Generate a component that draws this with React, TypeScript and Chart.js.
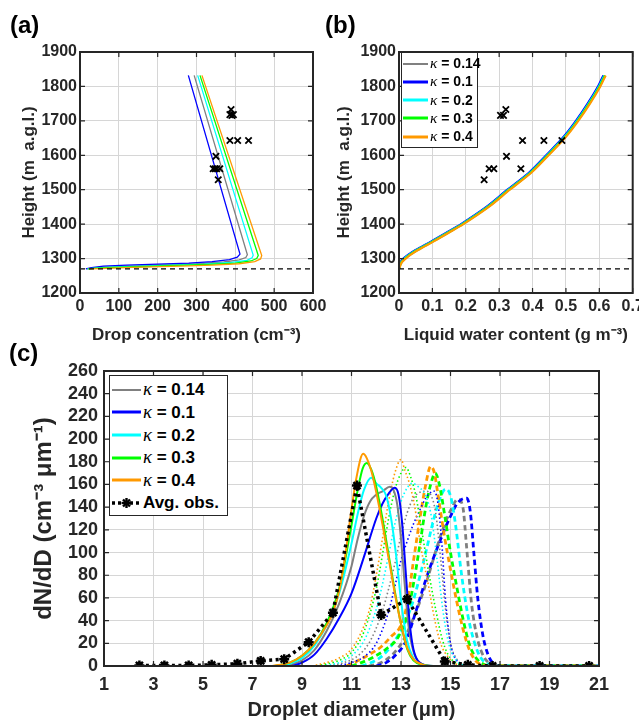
import React, { useEffect, useRef } from "react";
import { Chart, registerables } from "chart.js";
Chart.register(...registerables);

type P = [number, number];

const FONT = "'Liberation Sans', Arial, Helvetica, sans-serif";
const INK = "#262626";
const GRID = "#d6d6d6";

// ---------- series identity ----------
const KAPPAS = ["0.14", "0.1", "0.2", "0.3", "0.4"];
const COLORS = ["#808080", "#0000ff", "#00ffff", "#00ff00", "#ff9900"];

// ---------- panel (a): drop concentration (cm^-3) vs height (m) ----------
const CLOUD_BASE = 1270;
const CONC_MIN = 0, CONC_MAX = 600;
const HEIGHT_MIN = 1200, HEIGHT_MAX = 1900;
const concGray: P[] = [[17,1270],[35,1273],[70,1276],[140,1279],[220,1282],[300,1285],[370,1290],[410,1296],[427,1303],[431,1311],[294,1832]];
const concBlue: P[] = [[15,1270],[30,1274],[60,1278],[120,1281],[200,1284],[280,1287],[340,1291],[385,1297],[405,1304],[412,1313],[279,1832]];
const concCyan: P[] = [[19,1270],[40,1272],[80,1275],[160,1278],[240,1281],[320,1284],[390,1289],[430,1295],[443,1302],[446,1310],[303,1832]];
const concGreen: P[] = [[21,1270],[45,1272],[90,1274],[170,1277],[250,1280],[330,1283],[400,1287],[440,1293],[455,1300],[459,1309],[309,1832]];
const concOrange: P[] = [[23,1270],[50,1271],[100,1273],[180,1276],[260,1278],[340,1281],[410,1285],[450,1291],[465,1299],[468,1309],[314,1832]];
const obsConc = [389, 386, 395, 391, 386, 406, 434, 350, 343, 348, 352, 360, 356];
const obsConcHeight = [1733, 1718, 1718, 1716, 1643, 1643, 1643, 1597, 1561, 1561, 1561, 1561, 1529];

// ---------- panel (b): liquid water content (g m^-3) vs height ----------
const LWC_MIN = 0, LWC_MAX = 0.7;
const lwcHeights = [1270,1280,1290,1300,1310,1325,1350,1375,1400,1450,1500,1550,1600,1650,1700,1750,1800,1832];
const lwcGray   = [0,0.002,0.006,0.015,0.028,0.052,0.099,0.144,0.188,0.264,0.327,0.392,0.443,0.492,0.532,0.567,0.598,0.614];
const lwcBlue   = [0,0.002,0.005,0.013,0.026,0.050,0.097,0.142,0.186,0.262,0.325,0.390,0.441,0.490,0.530,0.565,0.596,0.612];
const lwcCyan   = [0,0.003,0.007,0.016,0.029,0.053,0.100,0.145,0.189,0.265,0.328,0.393,0.444,0.493,0.533,0.568,0.599,0.615];
const lwcGreen  = [0,0.003,0.008,0.018,0.031,0.055,0.102,0.147,0.191,0.267,0.330,0.395,0.446,0.495,0.535,0.570,0.601,0.617];
const lwcOrange = [0,0.004,0.009,0.020,0.033,0.057,0.104,0.149,0.193,0.269,0.332,0.397,0.448,0.497,0.537,0.572,0.603,0.619];
const obsLwc = [0.255, 0.270, 0.284, 0.365, 0.304, 0.313, 0.320, 0.322, 0.370, 0.434, 0.488];
const obsLwcHeight = [1529, 1561, 1561, 1561, 1716, 1716, 1733, 1597, 1643, 1643, 1643];

// ---------- panel (c): dN/dD (cm^-3 um^-1) vs droplet diameter (um) ----------
const D_MIN = 1, D_MAX = 21;
const DN_MIN = 0, DN_MAX = 260;
// solid
const solidGray: P[] = [[8.3,0],[9,5],[9.5,14],[10,31],[10.5,55],[11,88],[11.25,112],[11.5,132],[11.75,145],[12,151],[12.25,154],[12.55,158],[12.7,155],[12.85,142],[13,112],[13.15,72],[13.3,36],[13.5,13],[13.75,3],[14.2,0],[21,0]];
const solidBlue: P[] = [[8.6,0],[9,3],[9.5,10],[10,24],[10.5,42],[11,64],[11.5,96],[12,130],[12.25,143],[12.5,152],[12.75,157],[12.9,151],[13.05,125],[13.2,80],[13.35,38],[13.5,15],[13.75,3],[14.3,0],[21,0]];
const solidCyan: P[] = [[8.1,0],[8.5,2],[9,7],[9.5,18],[10,36],[10.5,64],[11,108],[11.25,134],[11.5,155],[11.8,166],[12,161],[12.2,157],[12.4,150],[12.6,130],[12.8,98],[13,58],[13.25,22],[13.5,7],[13.8,1],[14.3,0],[21,0]];
const solidGreen: P[] = [[7.9,0],[8.5,3],[9,9],[9.5,20],[10,38],[10.5,68],[11,124],[11.25,155],[11.45,174],[11.62,179],[11.8,173],[12,158],[12.25,130],[12.5,98],[12.75,66],[13,37],[13.25,15],[13.5,5],[13.9,1],[14.3,0],[21,0]];
const solidOrange: P[] = [[7.8,0],[8.5,3],[9,9],[9.5,20],[10,36],[10.25,47],[10.5,66],[10.75,98],[11,138],[11.2,166],[11.47,187],[11.62,183],[11.8,172],[12,153],[12.25,125],[12.5,95],[12.75,64],[13,37],[13.25,16],[13.5,6],[13.9,1],[14.3,0],[21,0]];
// dotted
const dotGray: P[] = [[10.1,0],[10.7,3],[11.2,8],[11.7,20],[12.2,45],[12.5,68],[12.75,90],[13,115],[13.25,135],[13.5,148],[13.75,153],[14,154],[14.2,151],[14.4,135],[14.6,95],[14.8,50],[15,20],[15.25,6],[15.5,1],[15.9,0],[21,0]];
const dotBlue: P[] = [[10.4,0],[11,3],[11.5,8],[12,20],[12.5,48],[12.75,70],[13,93],[13.25,110],[13.5,125],[13.75,137],[14,148],[14.2,153],[14.35,154],[14.5,142],[14.65,108],[14.8,58],[15,20],[15.25,5],[15.5,1],[15.9,0],[21,0]];
const dotCyan: P[] = [[9.8,0],[10.5,3],[11,9],[11.5,22],[12,50],[12.25,72],[12.5,98],[12.75,125],[13,145],[13.25,157],[13.45,161],[13.7,158],[13.95,152],[14.2,135],[14.45,95],[14.7,48],[14.95,18],[15.2,6],[15.5,1],[15.9,0],[21,0]];
const dotGreen: P[] = [[9.6,0],[10.5,5],[11,12],[11.5,30],[12,68],[12.25,98],[12.5,130],[12.75,155],[13,170],[13.2,175],[13.4,166],[13.6,150],[13.85,118],[14.1,85],[14.4,50],[14.65,25],[14.9,10],[15.2,3],[15.6,0],[21,0]];
const dotOrange: P[] = [[9.4,0],[10,3],[10.5,7],[11,15],[11.5,35],[11.75,52],[12,80],[12.25,112],[12.5,145],[12.75,170],[13,182],[13.15,173],[13.35,160],[13.55,141],[13.8,105],[14.1,72],[14.35,42],[14.6,20],[14.9,8],[15.3,1],[15.8,0],[21,0]];
// dashed
const dashGray: P[] = [[11.7,0],[12.2,3],[12.7,11],[13.1,23],[13.5,42],[13.75,56],[14,72],[14.25,90],[14.5,108],[14.75,124],[15,137],[15.3,147],[15.5,140],[15.65,105],[15.85,55],[16.1,23],[16.35,8],[16.6,2],[17,0],[21,0]];
const dashBlue: P[] = [[12,0],[12.4,3],[12.8,10],[13.2,22],[13.6,48],[14,76],[14.5,106],[15,132],[15.3,144],[15.65,148],[15.8,136],[15.95,98],[16.1,60],[16.3,28],[16.5,11],[16.7,3],[17,0],[21,0]];
const dashCyan: P[] = [[11.4,0],[11.8,3],[12.3,10],[12.8,24],[13.2,40],[13.5,58],[13.75,78],[14,100],[14.25,123],[14.5,143],[14.8,156],[15,150],[15.2,125],[15.45,80],[15.7,45],[15.95,22],[16.2,8],[16.5,2],[16.9,0],[21,0]];
const dashGreen: P[] = [[11,0],[11.4,3],[11.9,8],[12.4,15],[12.9,26],[13.25,45],[13.5,72],[13.75,105],[14,140],[14.2,160],[14.38,170],[14.55,160],[14.75,135],[15,100],[15.25,70],[15.5,42],[15.75,20],[16,8],[16.3,2],[16.7,0],[21,0]];
const dashOrange: P[] = [[10.8,0],[11.2,4],[11.7,10],[12.2,17],[12.6,26],[13,36],[13.25,55],[13.5,92],[13.75,128],[14,160],[14.2,176],[14.35,170],[14.5,150],[14.75,115],[15,85],[15.25,57],[15.5,33],[15.75,15],[16,5],[16.3,1],[16.7,0],[21,0]];
// observed average
const obsDiam = [2.43, 3.44, 4.42, 5.35, 6.39, 7.33, 8.28, 9.27, 10.25, 11.22, 12.2, 13.25, 14.77, 15.7, 16.7, 18.6, 20.6];
const obsDn = [0.5, 0.5, 0.5, 1, 2, 4.5, 6, 21, 47, 159, 45, 59, 4, 1, 0, 0, 0];

// ---------- helpers ----------
const toXY = (arr: P[]) => arr.map(([x, y]) => ({ x, y }));
const zipXY = (xs: number[], ys: number[]) => xs.map((x, i) => ({ x, y: ys[i] }));

const framePlugin = {
  id: "matlabFrame",
  afterDatasetsDraw(chart: any) {
    const { ctx, chartArea: a, scales } = chart;
    const xs = scales.x, ys = scales.y;
    const tl = 5;
    ctx.save();
    ctx.strokeStyle = INK;
    ctx.lineWidth = 1.2;
    ctx.beginPath();
    xs.ticks.forEach((t: any) => {
      const p = xs.getPixelForValue(t.value);
      ctx.moveTo(p, a.bottom); ctx.lineTo(p, a.bottom - tl);
      ctx.moveTo(p, a.top); ctx.lineTo(p, a.top + tl);
    });
    ys.ticks.forEach((t: any) => {
      const p = ys.getPixelForValue(t.value);
      ctx.moveTo(a.left, p); ctx.lineTo(a.left + tl, p);
      ctx.moveTo(a.right, p); ctx.lineTo(a.right - tl, p);
    });
    ctx.stroke();
    ctx.lineWidth = 2;
    ctx.strokeRect(a.left, a.top, a.right - a.left, a.bottom - a.top);
    ctx.restore();
  },
};

function axis(o: {
  min: number; max: number; step: number; size: number; title: string; titleSize: number;
  titlePad: number; tickPad: number; fit: number; horizontal: boolean; fmt?: (v: number) => string;
}) {
  return {
    type: "linear",
    min: o.min,
    max: o.max,
    ticks: {
      stepSize: o.step,
      autoSkip: false,
      maxRotation: 0,
      minRotation: 0,
      padding: o.tickPad,
      color: INK,
      font: { family: FONT, size: o.size, weight: "bold" },
      callback: o.fmt ? (v: any) => o.fmt!(Number(v)) : undefined,
    },
    grid: { color: GRID, lineWidth: 1, drawTicks: false },
    border: { display: false },
    title: {
      display: true,
      text: o.title,
      color: INK,
      font: { family: FONT, size: o.titleSize, weight: "bold" },
      padding: o.horizontal ? { top: 0, bottom: o.titlePad } : { top: o.titlePad, bottom: 0 },
    },
    afterFit(s: any) {
      if (o.horizontal) { s.height = o.fit; s.paddingLeft = 0; s.paddingRight = 0; }
      else { s.width = o.fit; s.paddingTop = 0; s.paddingBottom = 0; }
    },
  };
}

function baseOptions(padding: any, x: any, y: any) {
  return {
    responsive: false,
    maintainAspectRatio: false,
    animation: false,
    events: [],
    layout: { padding },
    plugins: { legend: { display: false }, tooltip: { enabled: false } },
    scales: { x, y },
  };
}

function ChartCanvas({ left, top, width, height, make }: any) {
  const ref = useRef<HTMLCanvasElement>(null);
  useEffect(() => {
    const c = new Chart(ref.current as HTMLCanvasElement, make());
    return () => c.destroy();
  }, []);
  return <canvas ref={ref} width={width} height={height} style={{ position: "absolute", left, top, width, height }} />;
}

// ---------- configs ----------
function makeA() {
  const curves = [concGray, concBlue, concCyan, concGreen, concOrange];
  const ds: any[] = curves.map((c, i) => ({
    data: toXY(c), borderColor: COLORS[i], borderWidth: 1.3, showLine: true, pointRadius: 0, tension: 0,
  }));
  ds.push({
    data: [{ x: CONC_MIN, y: CLOUD_BASE }, { x: CONC_MAX, y: CLOUD_BASE }],
    borderColor: "#000", borderWidth: 1.4, borderDash: [5, 4], showLine: true, pointRadius: 0,
  });
  ds.push({
    data: zipXY(obsConc, obsConcHeight), showLine: false, pointStyle: "crossRot", pointRadius: 4.5,
    borderColor: "#000", backgroundColor: "#000", pointBorderWidth: 1.8,
  });
  return {
    type: "scatter",
    data: { datasets: ds.reverse() },
    options: baseOptions(
      { top: 52, right: 22, left: 0, bottom: 0 },
      axis({ min: CONC_MIN, max: CONC_MAX, step: 100, size: 16, title: "Drop concentration (cm\u207B\u00B3)", titleSize: 17, titlePad: 4, tickPad: 4, fit: 57, horizontal: true }),
      axis({ min: HEIGHT_MIN, max: HEIGHT_MAX, step: 100, size: 16, title: "Height (m  a.g.l.)", titleSize: 17, titlePad: 19, tickPad: 3, fit: 80, horizontal: false }),
    ),
    plugins: [framePlugin],
  };
}

function makeB() {
  const curves = [lwcGray, lwcBlue, lwcCyan, lwcGreen, lwcOrange];
  const ds: any[] = curves.map((c, i) => ({
    data: zipXY(c, lwcHeights), borderColor: COLORS[i], borderWidth: 2.2, showLine: true, pointRadius: 0, tension: 0.3,
  }));
  ds.push({
    data: [{ x: LWC_MIN, y: CLOUD_BASE }, { x: LWC_MAX, y: CLOUD_BASE }],
    borderColor: "#000", borderWidth: 1.4, borderDash: [5, 4], showLine: true, pointRadius: 0,
  });
  ds.push({
    data: zipXY(obsLwc, obsLwcHeight), showLine: false, pointStyle: "crossRot", pointRadius: 4.5,
    borderColor: "#000", backgroundColor: "#000", pointBorderWidth: 1.8,
  });
  return {
    type: "scatter",
    data: { datasets: ds.reverse() },
    options: baseOptions(
      { top: 52, right: 6, left: 0, bottom: 0 },
      axis({ min: LWC_MIN, max: LWC_MAX, step: 0.1, size: 16, title: "Liquid water content (g m\u207B\u00B3)", titleSize: 17, titlePad: 4, tickPad: 4, fit: 57, horizontal: true, fmt: (v) => String(Math.round(v * 10) / 10) }),
      axis({ min: HEIGHT_MIN, max: HEIGHT_MAX, step: 100, size: 16, title: "Height (m  a.g.l.)", titleSize: 17, titlePad: 14, tickPad: 3, fit: 79, horizontal: false }),
    ),
    plugins: [framePlugin],
  };
}

function makeC() {
  const solid = [solidGray, solidBlue, solidCyan, solidGreen, solidOrange];
  const dotted = [dotGray, dotBlue, dotCyan, dotGreen, dotOrange];
  const dashed = [dashGray, dashBlue, dashCyan, dashGreen, dashOrange];
  const ds: any[] = [];
  const line = (arr: P[], color: string, width: number, dash: number[]) => ({
    data: toXY(arr), borderColor: color, borderWidth: width, borderDash: dash, pointRadius: 0,
    fill: false, cubicInterpolationMode: "monotone",
  });
  dashed.forEach((c, i) => ds.push(line(c, COLORS[i], 2.8, [5.5, 3.5])));
  dotted.forEach((c, i) => ds.push(line(c, COLORS[i], 1.6, [1.5, 2.5])));
  solid.forEach((c, i) => ds.push(line(c, COLORS[i], 2, [])));
  ds.push({
    data: zipXY(obsDiam, obsDn), borderColor: "#000", borderWidth: 3.5, borderDash: [3, 3.5],
    pointStyle: "star", pointRadius: 5, pointBorderWidth: 2.5, pointBorderColor: "#000", pointBackgroundColor: "#000",
    fill: false, tension: 0,
  });
  return {
    type: "line",
    data: { datasets: ds.reverse() },
    options: baseOptions(
      { top: 21, right: 40, left: 0, bottom: 0 },
      axis({ min: D_MIN, max: D_MAX, step: 2, size: 18, title: "Droplet diameter (\u03BCm)", titleSize: 20, titlePad: 2, tickPad: 8, fit: 58, horizontal: true }),
      axis({ min: DN_MIN, max: DN_MAX, step: 20, size: 18, title: "dN/dD (cm\u207B\u00B3 \u03BCm\u207B\u00B9)", titleSize: 24, titlePad: 30, tickPad: 6, fit: 104, horizontal: false }),
    ),
    plugins: [framePlugin],
  };
}

// ---------- legends ----------
const kappaStyle: React.CSSProperties = { fontFamily: "'Liberation Serif', 'Times New Roman', serif", fontStyle: "italic", fontWeight: "normal", fontSize: "1.1em" };

function Sample({ color, width, dash, star, w }: any) {
  return (
    <svg width={w} height={14} style={{ display: "block" }}>
      <line x1={0} y1={7} x2={w} y2={7} stroke={color} strokeWidth={width} strokeDasharray={dash} />
      {star ? (
        <g stroke="#000" strokeWidth={2.4}>
          <line x1={w / 2 - 5} y1={7} x2={w / 2 + 5} y2={7} />
          <line x1={w / 2} y1={2} x2={w / 2} y2={12} />
          <line x1={w / 2 - 3.5} y1={3.5} x2={w / 2 + 3.5} y2={10.5} />
          <line x1={w / 2 - 3.5} y1={10.5} x2={w / 2 + 3.5} y2={3.5} />
        </g>
      ) : null}
    </svg>
  );
}

function LegendBox({ box, rows, sampleLeft, sampleW, textLeft, fontSize, firstCenter, rowH }: any) {
  return (
    <>
      <div style={{ position: "absolute", left: box[0], top: box[1], width: box[2], height: box[3], border: `1.5px solid ${INK}`, background: "#fff", boxSizing: "border-box" }} />
      {rows.map((r: any, i: number) => {
        const cy = firstCenter + i * rowH;
        return (
          <React.Fragment key={i}>
            <div style={{ position: "absolute", left: sampleLeft, top: cy - 7 }}>
              <Sample color={r.color} width={r.width} dash={r.dash} star={r.star} w={sampleW} />
            </div>
            <div style={{ position: "absolute", left: textLeft, top: cy - fontSize * 0.6, height: fontSize * 1.2, lineHeight: `${fontSize * 1.2}px`, fontFamily: FONT, fontWeight: "bold", fontSize, color: "#000", whiteSpace: "nowrap" }}>
              {r.label}
            </div>
          </React.Fragment>
        );
      })}
    </>
  );
}

const kappaLabel = (k: string) => (<><span style={kappaStyle}>κ</span> = {k}</>);

export default function App() {
  const rowsB = KAPPAS.map((k, i) => ({ color: COLORS[i], width: i === 0 ? 2 : 3, label: kappaLabel(k) }));
  const rowsC = [
    ...KAPPAS.map((k, i) => ({ color: COLORS[i], width: i === 0 ? 2 : 3, label: kappaLabel(k) })),
    { color: "#000", width: 3.5, dash: "3 3", star: true, label: "Avg. obs." },
  ];
  const panelLabel: React.CSSProperties = { position: "absolute", fontFamily: FONT, fontWeight: "bold", fontSize: 24, lineHeight: "24px", color: "#000" };
  return (
    <div style={{ position: "absolute", left: 0, top: 0, width: 639, height: 724, background: "#fff", overflow: "hidden" }}>
      <ChartCanvas left={0} top={0} width={335} height={350} make={makeA} />
      <ChartCanvas left={320} top={0} width={319} height={350} make={makeB} />
      <ChartCanvas left={0} top={350} width={639} height={374} make={makeC} />
      <div style={{ ...panelLabel, left: 10, top: 13 }}>(a)</div>
      <div style={{ ...panelLabel, left: 325, top: 13 }}>(b)</div>
      <div style={{ ...panelLabel, left: 9, top: 341 }}>(c)</div>
      <LegendBox box={[401, 52, 77, 96]} rows={rowsB} sampleLeft={403} sampleW={25} textLeft={430} fontSize={14} firstCenter={63.5} rowH={18.3} />
      <LegendBox box={[109, 375, 119, 141]} rows={rowsC} sampleLeft={112} sampleW={29} textLeft={143} fontSize={17} firstCenter={389.5} rowH={22.7} />
    </div>
  );
}
